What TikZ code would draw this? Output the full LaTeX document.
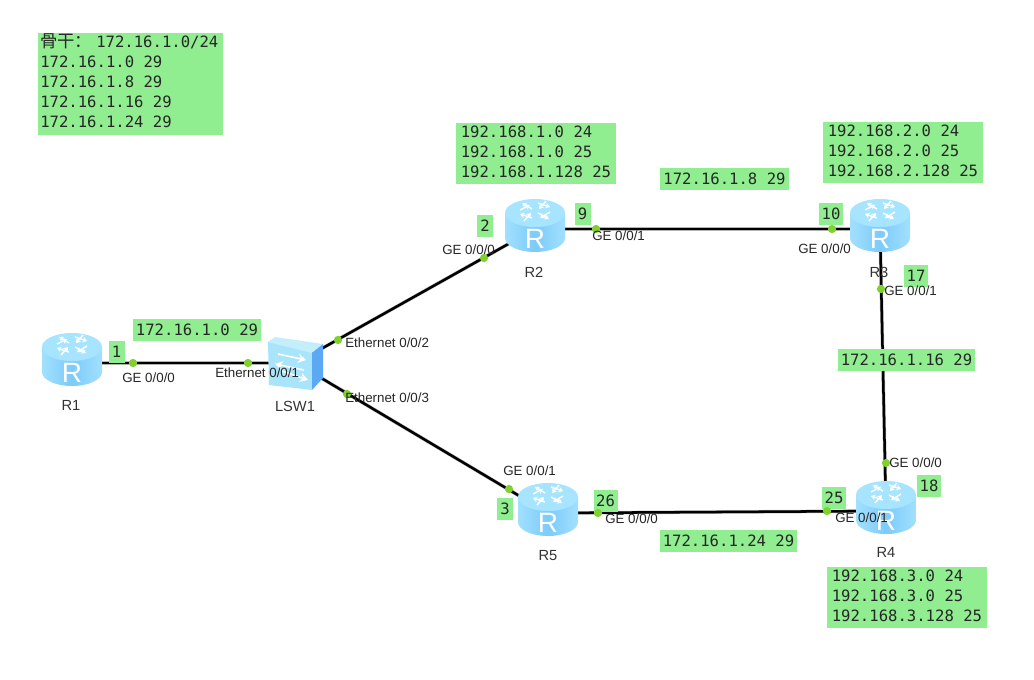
\documentclass[tikz,border=0pt]{standalone}
\usepackage{fontspec}
\setmainfont{Liberation Sans}
\setmonofont{DejaVu Sans Mono}
\newfontfamily\cjkfont{Noto Sans CJK SC}
\usetikzlibrary{calc,arrows.meta}
\newcommand\lastdepth{\rule[-3pt]{0pt}{0pt}}
\definecolor{boxgreen}{HTML}{90EE90}
\definecolor{dotgreen}{HTML}{80D030}
\definecolor{rtop}{HTML}{A6E4FF}
\definecolor{rside}{HTML}{7CCBFB}
\definecolor{rsidel}{HTML}{A2E0FD}
\definecolor{swfront}{HTML}{A8E4FA}
\definecolor{swtop}{HTML}{C4EEFB}
\definecolor{swside}{HTML}{5BA8F5}
\tikzset{
  x=0.75pt,y=-0.75pt,
  anchorbox/.style={inner sep=0pt,minimum width=1pt,minimum height=1pt},
  link/.style={draw=black,line width=1.9pt},
  linkhalo/.style={draw=gray!60,line width=2.6pt},
  portdot/.style={circle,fill=dotgreen,inner sep=0pt,minimum size=6.2pt},
  monotext/.style={font=\ttfamily\fontsize{11.7}{15}\selectfont,align=left,text=black!85},
  tag/.style={monotext,fill=boxgreen,inner xsep=2.25pt,inner ysep=0pt,minimum height=17pt},
  numtag/.style={monotext,fill=boxgreen,inner sep=0pt,minimum width=12pt,minimum height=16.5pt},
  numtagw/.style={numtag,minimum width=18pt},
  listtag/.style={monotext,fill=boxgreen,anchor=north west,inner xsep=3.4pt,inner ysep=0pt,minimum height=45.5pt},
  port/.style={font=\fontsize{10}{11}\selectfont,inner sep=0pt,text=black!85},
  devname/.style={font=\fontsize{11}{12}\selectfont,inner sep=0pt,text=black!80},
  arrowline/.style={white,line width=1.1pt,-{Stealth[length=3.4pt,width=4.4pt]}},
  router/.pic={
    \shade[left color=rsidel,right color=rsidel,middle color=rside]
      (-30,-16) -- (-30,9) arc[x radius=30,y radius=14,start angle=180,end angle=0] -- (30,-16) -- cycle;
    \fill[rtop] (0,-16) ellipse[x radius=30,y radius=14];
    \draw[arrowline] (-3,-20) -- (-13,-26);
    \draw[arrowline] (-15,-19) -- (-5,-24);
    \draw[arrowline] (3,-26) -- (15,-22);
    \draw[arrowline] (11,-28) -- (4,-20);
    \draw[arrowline] (-3,-11) -- (-15,-15);
    \draw[arrowline] (-11,-8) -- (-4,-16);
    \draw[arrowline] (3,-16) -- (14,-10);
    \draw[arrowline] (15,-17) -- (5,-11);
    \node[white,font=\fontsize{21}{21}\selectfont,inner sep=0pt] at (0,10) {R};
  },
  switchpic/.pic={
    \fill[swtop] (-28,-21) -- (-21,-26) -- (27,-19) -- (16,-10) -- cycle;
    \fill[swfront] (-28,-21) -- (16,-10) -- (16,27) -- (-27,22) -- cycle;
    \fill[swside] (16,-10) -- (27,-19) -- (27,15) -- (16,27) -- cycle;
    \draw[white,line width=1.2pt,-{Stealth[length=6pt,width=7pt]}] (-18,-9) -- (10,-3);
    \draw[white,line width=1.2pt,-{Stealth[length=6pt,width=7pt]}] (8,7) -- (-21,1);
    \draw[white,line width=1.2pt,-{Stealth[length=6pt,width=7pt]}] (-14,8) -- (12,17);
  }
}
\begin{document}
\begin{tikzpicture}
\useasboundingbox (0,0) rectangle (1034,679);
\fill[white] (0,0) rectangle (1034,679);
% positions
\node[anchorbox] (R1) at (72,363) {};
\node[anchorbox] (LSW1) at (296,363) {};
\node[anchorbox] (R2) at (535,229) {};
\node[anchorbox] (R3) at (880,229) {};
\node[anchorbox] (R4) at (886,511) {};
\node[anchorbox] (R5) at (548,513) {};
% links
\foreach \s/\t in {R1/LSW1,LSW1/R2,LSW1/R5,R2/R3,R3/R4,R5/R4}{
  \draw[linkhalo] (\s) -- (\t);
  \draw[link] (\s) -- (\t);
}
% devices
\pic at (R1) {router};
\pic at (R2) {router};
\pic at (R3) {router};
\pic at (R4) {router};
\pic at (R5) {router};
\pic at (LSW1) {switchpic};
% device names
\node[devname] (nR1) at (71,405) {R1};
\node[devname] (nLSW1) at (295,406) {LSW1};
\node[devname] (nR2) at (534,272) {R2};
\node[devname] (nR3) at (879,272) {R3};
\node[devname] (nR4) at (886,552) {R4};
\node[devname] (nR5) at (548,556) {R5};
% green tags
\node[fill=boxgreen,anchor=north west,minimum width=138.75pt,minimum height=76.5pt,inner sep=0pt] (backbone) at (38,33) {};
\node[monotext,anchor=north west,inner sep=0pt] (backtext) at (40,33)
  {{\cjkfont\fontsize{13}{15}\selectfont 骨干：}\hspace{3pt}172.16.1.0/24\\172.16.1.0 29\\172.16.1.8 29\\172.16.1.16 29\\172.16.1.24 29};
\node[tag] (t1) at (197,330) {172.16.1.0 29};
\node[tag] (t2) at (724.5,179) {172.16.1.8 29};
\node[tag] (t3) at (906.5,360) {172.16.1.16 29};
\node[tag] (t4) at (728.5,541) {172.16.1.24 29};
\node[listtag] (n2) at (456,123) {192.168.1.0 24\\192.168.1.0 25\\192.168.1.128 25\lastdepth};
\node[listtag] (n3) at (823,122) {192.168.2.0 24\\192.168.2.0 25\\192.168.2.128 25\lastdepth};
\node[listtag] (n4) at (827,567) {192.168.3.0 24\\192.168.3.0 25\\192.168.3.128 25\lastdepth};
\node[numtag] (i1) at (116.5,352) {1};
\node[numtag] (i2) at (485,226) {2};
\node[numtag] (i3) at (505,509) {3};
\node[numtag] (i9) at (582.5,214) {9};
\node[numtagw] (i10) at (831,214) {10};
\node[numtagw] (i17) at (916,276) {17};
\node[numtagw] (i18) at (929,486) {18};
\node[numtagw] (i25) at (834,498) {25};
\node[numtagw] (i26) at (605.5,501) {26};
% port dots
\node[portdot] (d1) at (133,363) {};
\node[portdot] (d2) at (248,363) {};
\node[portdot] (d3) at (338,340) {};
\node[portdot] (d4) at (347,394) {};
\node[portdot] (d5) at (484,258) {};
\node[portdot] (d6) at (509,489) {};
\node[portdot] (d7) at (596,229) {};
\node[portdot] (d8) at (832,229) {};
\node[portdot] (d9) at (881,289) {};
\node[portdot] (d10) at (886,463) {};
\node[portdot] (d11) at (598,513) {};
\node[portdot] (d12) at (827,511) {};
% port labels
\node[port,anchor=west] (p1) at (122,378) {GE 0/0/0};
\node[port,anchor=west] (p2) at (215,373) {Ethernet 0/0/1};
\node[port,anchor=west] (p3) at (345,343) {Ethernet 0/0/2};
\node[port,anchor=west] (p4) at (345,398) {Ethernet 0/0/3};
\node[port,anchor=west] (p5) at (442,250) {GE 0/0/0};
\node[port,anchor=west] (p6) at (592,236) {GE 0/0/1};
\node[port,anchor=west] (p7) at (798,249) {GE 0/0/0};
\node[port,anchor=west] (p8) at (884,291) {GE 0/0/1};
\node[port,anchor=west] (p9) at (889,463) {GE 0/0/0};
\node[port,anchor=west] (p10) at (503,471) {GE 0/0/1};
\node[port,anchor=west] (p11) at (605,519) {GE 0/0/0};
\node[port,anchor=west] (p12) at (835,518) {GE 0/0/1};
\end{tikzpicture}
\end{document}
